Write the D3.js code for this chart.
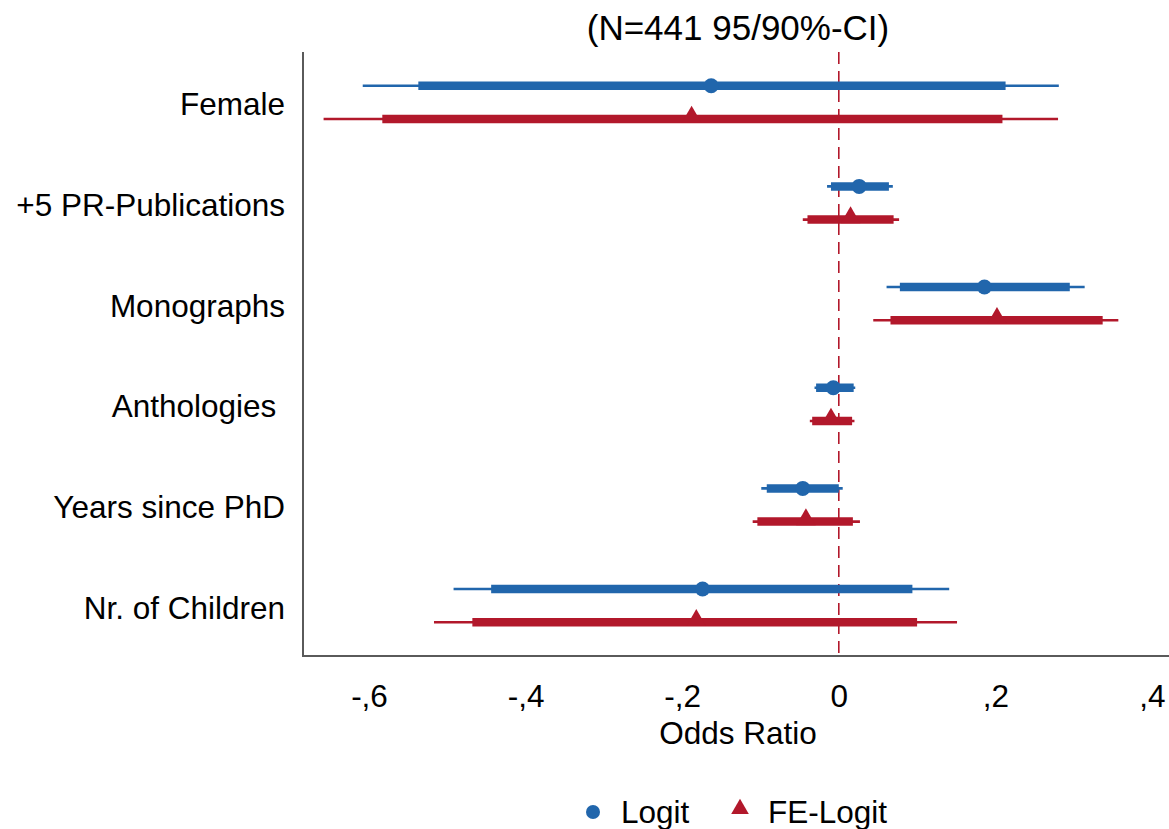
<!DOCTYPE html>
<html>
<head>
<meta charset="utf-8">
<script src="https://cdn.jsdelivr.net/npm/d3@7"></script>
<style>
  html, body { margin: 0; padding: 0; background: #fff; }
  svg { display: block; font-family: "Liberation Sans", Arial, sans-serif; }
</style>
</head>
<body>
<svg id="chart" width="1169" height="829"></svg>
<script>
// Coefficient estimates with 95% (thin) and 90% (thick) confidence intervals
const categories = ["Female", "+5 PR-Publications", "Monographs", "Anthologies ", "Years since PhD", "Nr. of Children"];
const seriesNames = ["Logit", "FE-Logit"];

const logitEst   = [-0.163, 0.026, 0.186, -0.007, -0.046, -0.174];
const logitLo90  = [-0.537, -0.010, 0.078, -0.029, -0.092, -0.444];
const logitHi90  = [0.213, 0.064, 0.295, 0.019, 0.000, 0.094];
const logitLo95  = [-0.608, -0.015, 0.061, -0.031, -0.099, -0.492];
const logitHi95  = [0.281, 0.069, 0.314, 0.021, 0.005, 0.141];

const feEst      = [-0.188, 0.015, 0.202, -0.010, -0.042, -0.182];
const feLo90     = [-0.583, -0.040, 0.066, -0.034, -0.104, -0.468];
const feHi90     = [0.209, 0.070, 0.337, 0.017, 0.018, 0.100];
const feLo95     = [-0.658, -0.046, 0.044, -0.037, -0.110, -0.517];
const feHi95     = [0.280, 0.077, 0.357, 0.020, 0.027, 0.151];

const xTicks = [-0.6, -0.4, -0.2, 0, 0.2, 0.4];
const titleText = "(N=441 95/90%-CI)";
const xTitle = "Odds Ratio";

const blue = "#2166ac", red = "#b2182b";

const svg = d3.select("#chart");

// plot region
const plotLeft = 303, plotRight = 1169, plotTop = 52, plotBottom = 656;

const x = d3.scaleLinear().domain([-0.6, 0.4]).range([369, 1152]);
const y = d3.scaleLinear().domain([0.5, categories.length + 0.5]).range([plotTop, plotBottom]);

// both series, offset above / below the category line
const series = [
  { name: seriesNames[0], color: blue, offset: -0.165, shape: "circle",
    est: logitEst, lo90: logitLo90, hi90: logitHi90, lo95: logitLo95, hi95: logitHi95 },
  { name: seriesNames[1], color: red, offset: 0.165, shape: "triangle",
    est: feEst, lo90: feLo90, hi90: feHi90, lo95: feLo95, hi95: feHi95 }
];

// title
svg.append("text")
  .attr("x", 738).attr("y", 40)
  .attr("text-anchor", "middle")
  .attr("font-size", 35)
  .attr("fill", "#000")
  .text(titleText);

// left axis line
svg.append("line")
  .attr("x1", plotLeft).attr("x2", plotLeft).attr("y1", plotTop).attr("y2", plotBottom)
  .attr("stroke", "#5a5a5a").attr("stroke-width", 2);

// x axis labels via d3 axis (no tick marks)
const fmt = d => d === 0 ? "0" : (d < 0 ? "-" : "") + "," + Math.round(Math.abs(d) * 10);
const xAxis = svg.append("g")
  .attr("transform", `translate(0,${plotBottom})`)
  .call(d3.axisBottom(x).tickValues(xTicks).tickFormat(fmt).tickSize(0).tickPadding(29));
xAxis.select(".domain").remove();
xAxis.selectAll("text")
  .attr("font-size", 31.5)
  .attr("font-family", "Liberation Sans, Arial, sans-serif")
  .attr("fill", "#000");

// bottom axis line
svg.append("line")
  .attr("x1", plotLeft - 1).attr("x2", plotRight).attr("y1", plotBottom).attr("y2", plotBottom)
  .attr("stroke", "#5a5a5a").attr("stroke-width", 2);

svg.append("text")
  .attr("x", 738).attr("y", 744)
  .attr("text-anchor", "middle")
  .attr("font-size", 31.5)
  .text(xTitle);

// zero reference line
svg.append("line")
  .attr("x1", x(0)).attr("x2", x(0)).attr("y1", plotTop).attr("y2", plotBottom)
  .attr("stroke", red).attr("stroke-width", 1.6)
  .attr("stroke-dasharray", "12,7");

// category labels
svg.append("g").selectAll("text")
  .data(categories)
  .join("text")
  .attr("x", 285)
  .attr("y", (d, i) => y(i + 1) + 1.5)
  .attr("dy", "0.36em")
  .attr("text-anchor", "end")
  .attr("font-size", 31.5)
  .style("white-space", "pre")
  .text(d => d);

const triangle = d3.symbol().type(d3.symbolTriangle).size(165);

series.forEach(s => {
  const g = svg.append("g");
  const rows = categories.map((c, i) => ({
    yy: y(i + 1 + s.offset),
    est: s.est[i], lo90: s.lo90[i], hi90: s.hi90[i], lo95: s.lo95[i], hi95: s.hi95[i]
  }));
  g.selectAll("line.ci95").data(rows).join("line")
    .attr("class", "ci95")
    .attr("x1", d => x(d.lo95)).attr("x2", d => x(d.hi95))
    .attr("y1", d => d.yy).attr("y2", d => d.yy)
    .attr("stroke", s.color).attr("stroke-width", 2.6);
  g.selectAll("line.ci90").data(rows).join("line")
    .attr("class", "ci90")
    .attr("x1", d => x(d.lo90)).attr("x2", d => x(d.hi90))
    .attr("y1", d => d.yy).attr("y2", d => d.yy)
    .attr("stroke", s.color).attr("stroke-width", 8.5);
  if (s.shape === "circle") {
    g.selectAll("circle").data(rows).join("circle")
      .attr("cx", d => x(d.est)).attr("cy", d => d.yy).attr("r", 7.5)
      .attr("fill", s.color);
  } else {
    g.selectAll("path").data(rows).join("path")
      .attr("d", triangle)
      .attr("transform", d => `translate(${x(d.est)},${d.yy - 2})`)
      .attr("fill", s.color);
  }
});

// legend
const legendTriangle = d3.symbol().type(d3.symbolTriangle).size(135);
const legend = svg.append("g");
legend.append("circle").attr("cx", 593).attr("cy", 812).attr("r", 7).attr("fill", blue);
legend.append("text").attr("x", 621).attr("y", 823).attr("font-size", 31.5).text(seriesNames[0]);
legend.append("path").attr("d", legendTriangle).attr("transform", "translate(740,809)").attr("fill", red);
legend.append("text").attr("x", 768).attr("y", 823).attr("font-size", 31.5).text(seriesNames[1]);
</script>
</body>
</html>
